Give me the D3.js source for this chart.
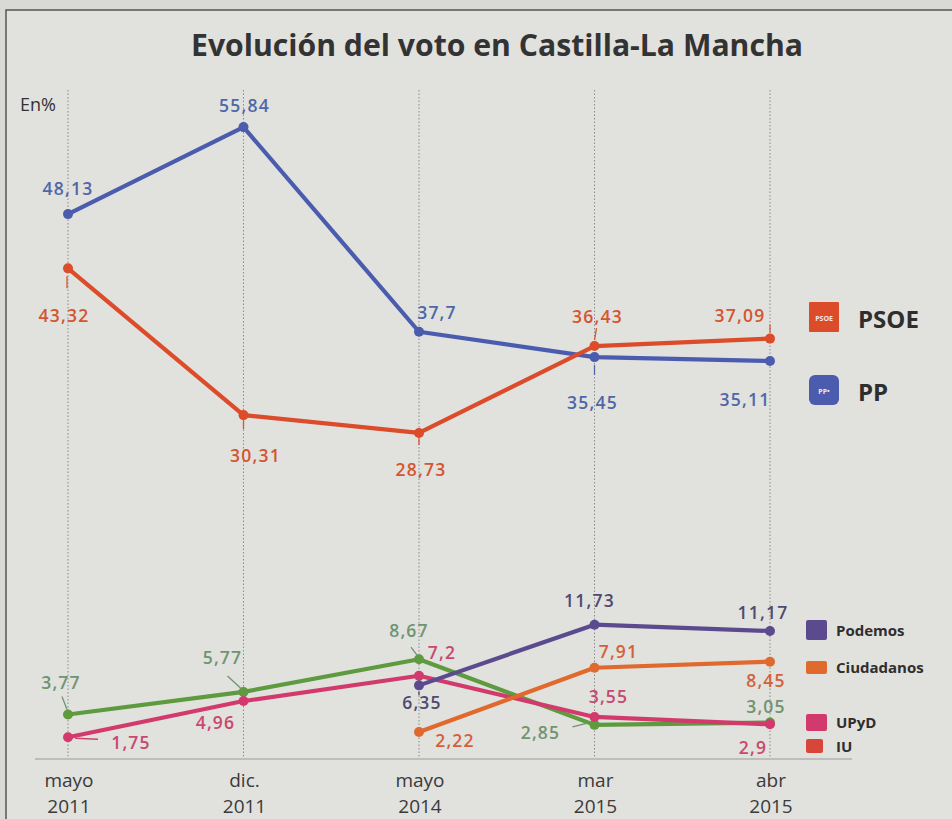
<!DOCTYPE html>
<html><head><meta charset="utf-8">
<script src="https://cdn.jsdelivr.net/npm/d3@7"></script>
<style>
html,body{margin:0;padding:0;background:#d9d9d5;}
svg{display:block;}
</style></head>
<body>
<script>
// ---- data ----
const categories = ["mayo 2011", "dic. 2011", "mayo 2014", "mar 2015", "abr 2015"];
const catLine1 = ["mayo", "dic.", "mayo", "mar", "abr"];
const catLine2 = ["2011", "2011", "2014", "2015", "2015"];
const ppValues = [48.13, 55.84, 37.7, 35.45, 35.11];
const psoeValues = [43.32, 30.31, 28.73, 36.43, 37.09];
const podemosValues = [null, null, 6.35, 11.73, 11.17];
const ciudadanosValues = [null, null, 2.22, 7.91, 8.45];
const upydValues = [1.75, 4.96, 7.2, 3.55, 2.9];
const iuValues = [3.77, 5.77, 8.67, 2.85, 3.05];
const seriesNames = ["PP", "PSOE", "Podemos", "Ciudadanos", "UPyD", "IU"];

// ---- layout / style (not data) ----
const W = 952, H = 819;
const colors = {PP:"#4b5cae", PSOE:"#dc4b2a", Podemos:"#5b4b8e", Ciudadanos:"#e0692e", UPyD:"#d23a6e", IU:"#5e9a3e"};
const labelColors = {PP:"#4f67a8", PSOE:"#d4552f", Podemos:"#4f4a70", Ciudadanos:"#d4603a", UPyD:"#c8486e", IU:"#6f9470"};
// label offsets (dx, dy from point) for each series
const labelOffsets = {
  PP:[[0,-26],[1,-22],[18,-19],[-2,45],[-25,39]],
  PSOE:[[-4,47],[12,40],[2,37],[3,-30],[-30,-23]],
  Podemos:[[3,17],[-5,-24],[-7,-19]],
  Ciudadanos:[[36,9],[24,-16],[-4,19]],
  UPyD:[[63,5],[-28,21],[23,-23],[14,-20],[-17,23]],
  IU:[[-7,-32],[-21,-34],[-10,-29],[-54,8],[-4,-16]]
};
const leaders = {
  PP:[null,null,null,[0,8,0,18],null],
  PSOE:[[-1,8,-1,20],[0,5,0,14],[0,5,0,12],[0,-6,2,-18],[0,-6,0,-14]],
  Podemos:[[0,6,0,10],null,null],
  Ciudadanos:[null,null,null],
  UPyD:[[7,1,30,2],null,null,null,null],
  IU:[[-1,-5,-6,-18],[-3,-4,-16,-16],[-2,-4,-8,-12],[-6,-2,-22,2],null]
};

const svg = d3.select("body").append("svg").attr("width", W).attr("height", H);

// background + frame
svg.append("rect").attr("x",0).attr("y",0).attr("width",W).attr("height",H).attr("fill","#d9d9d5");
svg.append("rect").attr("x",6).attr("y",10).attr("width",W).attr("height",H).attr("fill","#e1e1de").attr("stroke","#555").attr("stroke-width",1.5);

const x = d3.scalePoint().domain(categories).range([68, 770]);
const y = d3.scaleLinear().domain([0, 60]).range([757, 80.2]);

// title
svg.append("text").attr("x", 497).attr("y", 56).attr("text-anchor","middle")
  .attr("font-family","Open Sans").attr("font-weight",700).attr("font-size",30)
  .attr("fill","#333").attr("textLength",612).attr("lengthAdjust","spacingAndGlyphs")
  .text("Evolución del voto en Castilla-La Mancha");

svg.append("text").attr("x",20).attr("y",111).attr("font-family","Open Sans").attr("font-size",18)
  .attr("fill","#333").text("En%");

// vertical dotted gridlines
svg.append("g").selectAll("line").data(categories).join("line")
  .attr("x1", d=>x(d)).attr("x2", d=>x(d)).attr("y1", 90).attr("y2", 758)
  .attr("stroke","#8a8a8a").attr("stroke-width",1).attr("stroke-dasharray","1.5,2");

// baseline
svg.append("line").attr("x1",35).attr("x2",852).attr("y1",759).attr("y2",759).attr("stroke","#9a9a9a").attr("stroke-width",1.2);

// x axis labels
const xl = svg.append("g").attr("font-family","Open Sans").attr("font-size",19).attr("fill","#3a3a3a").attr("text-anchor","middle");
categories.forEach((c,i)=>{
  xl.append("text").attr("x",x(c)+1).attr("y",787).text(catLine1[i]);
  xl.append("text").attr("x",x(c)+1).attr("y",813).text(catLine2[i]);
});

const seriesValues = {PP:ppValues, PSOE:psoeValues, Podemos:podemosValues, Ciudadanos:ciudadanosValues, UPyD:upydValues, IU:iuValues};
const drawOrder = ["IU","UPyD","Ciudadanos","Podemos","PP","PSOE"];
const line = d3.line().defined(d=>d.v!=null).x(d=>x(d.c)).y(d=>y(d.v));
const fmt = v => String(v).replace(".", ",");

drawOrder.forEach(name=>{
  const pts = categories.map((c,i)=>({c, v: seriesValues[name][i]}));
  const g = svg.append("g");
  g.append("path").datum(pts).attr("d", line).attr("fill","none")
    .attr("stroke", colors[name]).attr("stroke-width",4.2).attr("stroke-linejoin","round");
  g.selectAll("circle").data(pts.filter(d=>d.v!=null)).join("circle")
    .attr("cx", d=>x(d.c)).attr("cy", d=>y(d.v)).attr("r",5).attr("fill",colors[name]);
});

// labels
seriesNames.forEach(name=>{
  const pts = categories.map((c,i)=>({c, v: seriesValues[name][i]})).filter(d=>d.v!=null);
  pts.forEach((d,k)=>{
    const px = x(d.c), py = y(d.v);
    const off = labelOffsets[name][k];
    const ld = leaders[name][k];
    if (ld) svg.append("line").attr("x1",px+ld[0]).attr("y1",py+ld[1]).attr("x2",px+ld[2]).attr("y2",py+ld[3])
      .attr("stroke",labelColors[name]).attr("stroke-width",1.3);
    svg.append("text").attr("x",px+off[0]).attr("y",py+off[1]+6.5).attr("text-anchor","middle")
      .attr("font-family","Open Sans").attr("font-weight",600).attr("font-size",17.5)
      .attr("letter-spacing",1.2).attr("fill",labelColors[name]).text(fmt(d.v));
  });
});

// big legend
const bigLegend = [{name:"PSOE", yy:302, r:1}, {name:"PP", yy:375, r:6}];
bigLegend.forEach(l=>{
  svg.append("rect").attr("x",809).attr("y",l.yy).attr("width",30).attr("height",30).attr("rx",l.r)
    .attr("fill",colors[l.name]);
  svg.append("text").attr("x",824).attr("y",l.yy+19).attr("text-anchor","middle").attr("font-family","Open Sans")
    .attr("font-weight",700).attr("font-size",7).attr("fill","#f3e8e8").text(l.name==="PSOE"?"PSOE":"PP•");
  svg.append("text").attr("x",858).attr("y",l.yy+26).attr("font-family","Open Sans").attr("font-weight",700)
    .attr("font-size",24).attr("fill","#2e2e2e").text(l.name);
});

// small legend
const smallLegend = [
  {name:"Podemos", yy:620, h:20, col:colors.Podemos},
  {name:"Ciudadanos", yy:661, h:13, col:colors.Ciudadanos},
  {name:"UPyD", yy:714, h:17, col:colors.UPyD},
  {name:"IU", yy:739, h:14, col:"#d8453a"}
];
smallLegend.forEach(l=>{
  svg.append("rect").attr("x",806).attr("y",l.yy).attr("width", l.name==="IU"?17:21).attr("height",l.h).attr("rx",2)
    .attr("fill",l.col);
  svg.append("text").attr("x",836).attr("y",l.yy+l.h/2+5.5).attr("font-family","Open Sans").attr("font-weight",700)
    .attr("font-size",15).attr("fill","#2e2e2e").text(l.name);
});
</script>
</body></html>
